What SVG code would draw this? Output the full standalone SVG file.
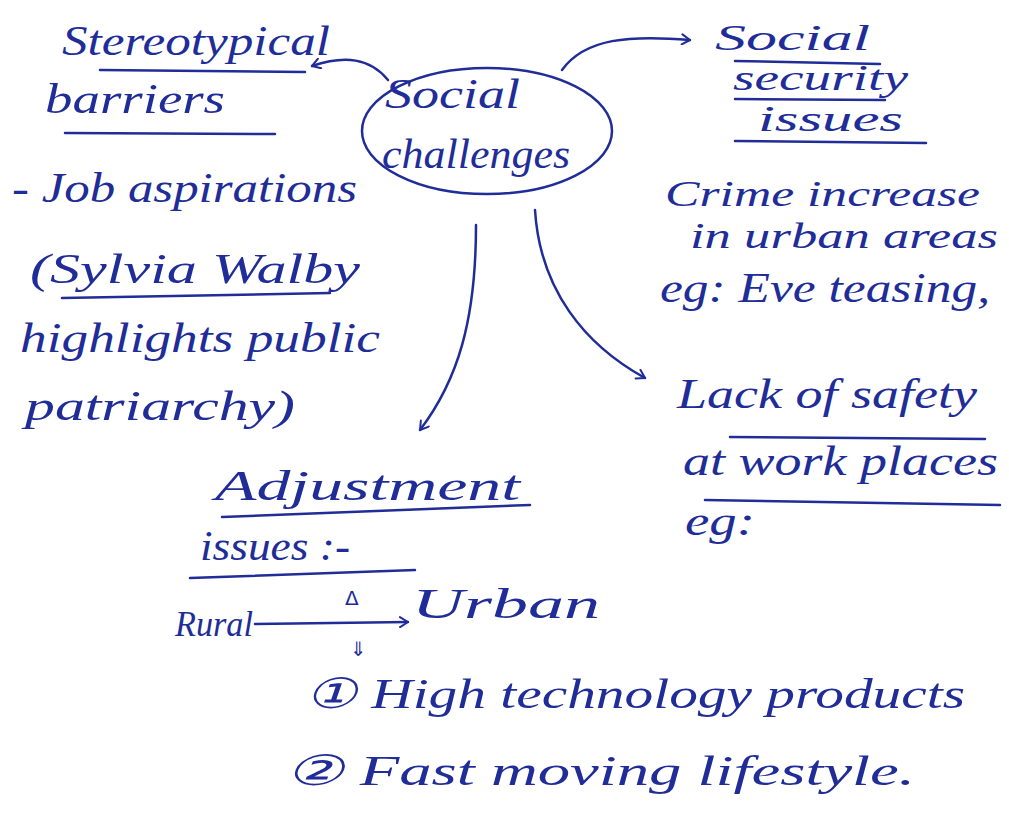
<svg xmlns="http://www.w3.org/2000/svg" width="1009" height="825" viewBox="0 0 1009 825">
<defs>
<style>
.t{font-family:"Liberation Serif","DejaVu Serif",serif;font-style:italic;font-size:42px;fill:#202c98}
.s{font-size:36px}
.c{font-family:"DejaVu Sans","Liberation Sans",sans-serif;fill:#202c98}
.u{stroke:#202c98;stroke-width:2.5;fill:none;stroke-linecap:round}
.l{stroke:#202c98;stroke-width:2.5;fill:none;stroke-linecap:round}
</style>
<marker id="ah" viewBox="0 0 12 12" refX="10" refY="6" markerWidth="12" markerHeight="12" markerUnits="userSpaceOnUse" orient="auto">
<polyline points="2,1 10,6 2,11" fill="none" stroke="#202c98" stroke-width="2" stroke-linecap="round" stroke-linejoin="round"/>
</marker>
</defs>
<rect width="1009" height="825" fill="#ffffff"/>

<g id="connectors">
<path class="l" d="M388 80 C370 58 345 55 312 66" marker-end="url(#ah)"/>
<path class="l" d="M562 70 C585 38 630 35 690 40" marker-end="url(#ah)"/>
<path class="l" d="M535 210 C540 290 585 345 645 378" marker-end="url(#ah)"/>
<path class="l" d="M476 225 C476 320 458 380 420 430" marker-end="url(#ah)"/>
</g>

<g id="center">
<ellipse cx="487" cy="131" rx="125" ry="63" class="u"/>
<text class="t" x="385" y="108" textLength="135" lengthAdjust="spacingAndGlyphs">Social</text>
<text class="t" x="382" y="168" textLength="188" lengthAdjust="spacingAndGlyphs">challenges</text>
</g>

<g id="stereotypical">
<text class="t" x="62" y="55" textLength="268" lengthAdjust="spacingAndGlyphs">Stereotypical</text>
<line class="u" x1="100" y1="70" x2="305" y2="72"/>
<text class="t" x="45" y="113" textLength="180" lengthAdjust="spacingAndGlyphs">barriers</text>
<line class="u" x1="65" y1="133" x2="275" y2="134"/>
<text class="t" x="12" y="202" textLength="345" lengthAdjust="spacingAndGlyphs">- Job aspirations</text>
<text class="t" x="30" y="283" textLength="330" lengthAdjust="spacingAndGlyphs">(Sylvia Walby</text>
<line class="u" x1="62" y1="298" x2="330" y2="293"/>
<text class="t" x="20" y="352" textLength="360" lengthAdjust="spacingAndGlyphs">highlights public</text>
<text class="t" x="25" y="420" textLength="270" lengthAdjust="spacingAndGlyphs">patriarchy)</text>
</g>

<g id="social-security">
<text class="t s" x="715" y="50" textLength="155" lengthAdjust="spacingAndGlyphs">Social</text>
<line class="u" x1="735" y1="61" x2="880" y2="64"/>
<text class="t s" x="733" y="90" textLength="175" lengthAdjust="spacingAndGlyphs">security</text>
<line class="u" x1="735" y1="99" x2="885" y2="100"/>
<text class="t s" x="758" y="131" textLength="145" lengthAdjust="spacingAndGlyphs">issues</text>
<line class="u" x1="735" y1="141" x2="926" y2="143"/>
<text class="t s" x="665" y="206" textLength="315" lengthAdjust="spacingAndGlyphs">Crime increase</text>
<text class="t s" x="690" y="248" textLength="308" lengthAdjust="spacingAndGlyphs">in urban areas</text>
<text class="t" x="660" y="302" textLength="330" lengthAdjust="spacingAndGlyphs">eg: Eve teasing,</text>
</g>

<g id="lack-of-safety">
<text class="t" x="677" y="408" textLength="300" lengthAdjust="spacingAndGlyphs">Lack of safety</text>
<line class="u" x1="730" y1="437" x2="985" y2="439"/>
<text class="t" x="683" y="475" textLength="315" lengthAdjust="spacingAndGlyphs">at work places</text>
<line class="u" x1="705" y1="500" x2="1000" y2="505"/>
<text class="t" x="685" y="535" textLength="70" lengthAdjust="spacingAndGlyphs">eg:</text>
</g>

<g id="adjustment">
<text class="t" x="215" y="500" textLength="305" lengthAdjust="spacingAndGlyphs">Adjustment</text>
<line class="u" x1="222" y1="517" x2="530" y2="505"/>
<text class="t" x="200" y="560" textLength="150" lengthAdjust="spacingAndGlyphs">issues :-</text>
<line class="u" x1="190" y1="578" x2="415" y2="570"/>
<text class="t s" x="175" y="636" textLength="78" lengthAdjust="spacingAndGlyphs">Rural</text>
<path class="l" d="M255 624 L408 622" marker-end="url(#ah)"/>
<text class="c" x="345" y="605" font-size="20">Δ</text>
<text class="t" x="412" y="618" font-size="46" textLength="188" lengthAdjust="spacingAndGlyphs">Urban</text>
<text class="c" x="350" y="656" font-size="20">⇓</text>
<text class="t" x="305" y="708" textLength="660" lengthAdjust="spacingAndGlyphs">① High technology products</text>
<text class="t" x="285" y="785" textLength="630" lengthAdjust="spacingAndGlyphs">② Fast moving lifestyle.</text>
</g>
</svg>
